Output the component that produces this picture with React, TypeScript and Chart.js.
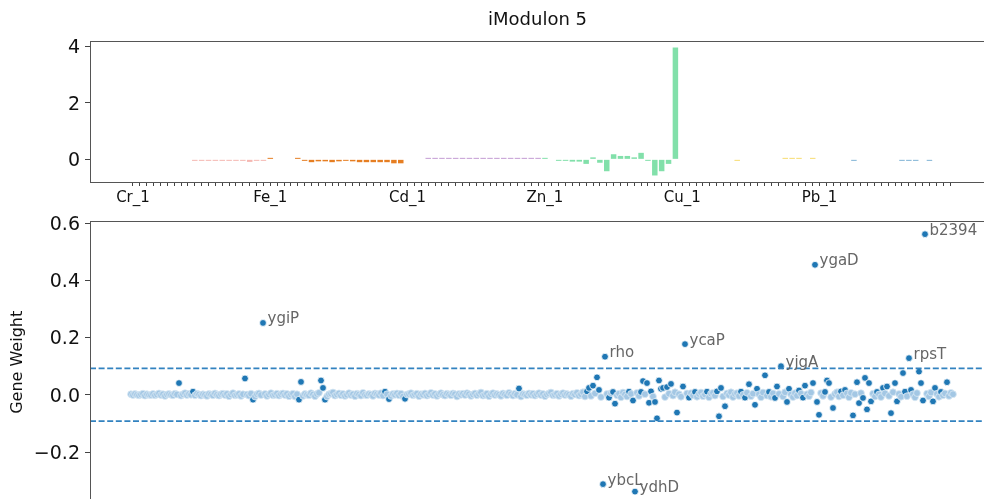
import React, { useEffect, useRef } from 'react';
import { Chart, registerables } from 'chart.js';

Chart.register(...registerables);

const FONT = "'DejaVu Sans', 'Liberation Sans', sans-serif";

// ---------- top panel: iModulon activity per condition ----------
const panelTitle = 'iModulon 5';
const conditionTickLabels = ['Cr_1', 'Fe_1', 'Cd_1', 'Zn_1', 'Cu_1', 'Pb_1'];
const conditionStep = 20;
const conditionCount = 120;
const activity: (number | null)[] = [
  null, null, null, null, null, null, null, null, null,
  -0.03, -0.03, -0.05, -0.05, -0.05, -0.05, -0.05, -0.05, -0.09, -0.05, -0.05,
  0.05,
  null, null, null,
  0.04, -0.03, -0.1, -0.07, -0.07, -0.1, -0.07, -0.03, -0.07, -0.1, -0.1, -0.1, -0.1, -0.1, -0.14, -0.14,
  null, null, null,
  0.02, 0.02, 0.02, 0.02, 0.02, 0.02, 0.02, 0.02, 0.02, 0.02, 0.02, 0.02, 0.02, 0.02, 0.02, 0.02, 0.02,
  0.03, null, -0.04, -0.04, -0.08, -0.08, -0.16, 0.07, -0.12, -0.42, 0.18, 0.12, 0.12, 0.07, 0.23, -0.04, -0.57, -0.42, -0.16, 3.95,
  null, null, null, null, null, null, null, null,
  -0.02,
  null, null, null, null, null, null,
  0.02, 0.02, 0.02, null, 0.02,
  null, null, null, null, null,
  -0.02,
  null, null, null, null, null, null,
  -0.02, -0.02, -0.02, null, -0.02,
  null, null, null,
];
const activityGroups = [
  { from: 0, to: 19, color: '#F5B7B1' },
  { from: 20, to: 39, color: '#E67E22' },
  { from: 40, to: 59, color: '#C39BD3' },
  { from: 60, to: 79, color: '#82E0AA' },
  { from: 80, to: 99, color: '#F7DC6F' },
  { from: 100, to: 119, color: '#7FB3D5' },
];
const activityTicks = [0, 2, 4];

// ---------- bottom panel: gene weights ----------
const geneWeights = [
  0.002, -0.001, 0.003, 0.000, -0.002, 0.001, 0.004, -0.003, 0.002, 0.000, -0.001, 0.003, -0.002, 0.001, 0.005, -0.001, 0.002, -0.004, 0.001, 0.003,
  0.000, -0.002, 0.004, 0.001, 0.041, -0.003, 0.002, 0.006, -0.001, 0.003, 0.000, 0.011, -0.002, 0.004, 0.001, -0.003, 0.002, 0.000, -0.004, 0.003,
  0.001, -0.002, 0.005, 0.000, -0.003, 0.002, 0.004, -0.001, 0.003, -0.005, 0.001, 0.006, -0.002, 0.000, 0.003, -0.004, 0.002, 0.057, 0.001, -0.003,
  0.004, -0.017, -0.006, 0.002, 0.005, -0.001, 0.251, 0.003, -0.004, 0.001, 0.006, -0.002, 0.000, 0.004, -0.003, 0.002, 0.005, -0.001, 0.003, -0.005,
  0.001, 0.004, -0.006, 0.002, -0.017, 0.045, -0.004, 0.003, 0.000, -0.002, 0.006, 0.001, -0.005, 0.003, 0.007, 0.050, 0.024, -0.017, -0.006, 0.002,
  0.004, 0.008, -0.003, 0.001, 0.005, -0.002, 0.003, -0.004, 0.000, 0.006, -0.001, 0.002, -0.005, 0.004, 0.001, -0.003, 0.007, 0.000, -0.002, 0.003,
  0.001, -0.004, 0.005, 0.002, -0.001, 0.006, -0.003, 0.011, 0.002, -0.015, -0.004, 0.003, 0.000, 0.005, -0.002, 0.004, -0.006, -0.014, 0.001, 0.003,
  0.006, -0.002, 0.001, 0.004, -0.005, 0.002, 0.000, 0.005, -0.003, 0.001, 0.007, -0.001, 0.003, -0.004, 0.002, 0.006, 0.000, -0.003, 0.004, 0.001,
  -0.002, 0.005, 0.002, -0.006, 0.003, 0.000, 0.004, -0.001, 0.006, 0.002, -0.004, 0.001, 0.005, -0.002, 0.003, 0.008, -0.003, 0.000, 0.004, -0.005,
  0.002, 0.006, -0.001, 0.003, 0.000, -0.004, 0.005, 0.001, -0.002, 0.007, 0.002, -0.003, 0.004, 0.000, 0.022, -0.006, 0.003, 0.001, -0.002, 0.005,
  0.000, 0.004, -0.003, 0.002, 0.006, -0.001, 0.003, -0.005, 0.001, 0.005, 0.008, -0.002, 0.000, 0.004, -0.004, 0.002, 0.006, -0.001, 0.003, 0.000,
  -0.005, 0.004, 0.001, 0.007, -0.003, 0.002, 0.009, -0.006, 0.012, 0.024, -0.004, 0.032, 0.005, 0.061, 0.017, -0.008, -0.312, 0.133, 0.003, -0.010,
  0.006, 0.010, -0.031, -0.002, 0.004, -0.009, 0.008, 0.001, -0.006, 0.011, 0.003, -0.020, -0.338, 0.007, -0.004, 0.010, 0.048, 0.002, 0.041, -0.028,
  0.012, -0.006, -0.025, -0.082, 0.050, 0.021, 0.024, -0.008, 0.027, 0.004, 0.038, -0.003, 0.009, -0.062, 0.002, -0.007, 0.029, 0.177, 0.005, -0.010,
  0.006, -0.002, 0.010, -0.007, 0.003, 0.008, -0.005, 0.001, 0.011, -0.009, 0.004, 0.007, -0.003, 0.012, -0.075, 0.024, -0.006, -0.040, 0.005, -0.001,
  0.009, -0.008, 0.003, 0.006, -0.004, 0.011, 0.000, -0.010, 0.007, 0.037, -0.005, 0.004, -0.035, 0.021, 0.002, -0.009, 0.008, 0.068, -0.003, 0.010,
  -0.007, 0.005, -0.011, 0.029, 0.003, 0.100, -0.006, 0.009, -0.025, 0.021, 0.001, -0.008, 0.006, -0.003, 0.015, 0.004, -0.010, 0.032, 0.002, -0.005,
  0.008, 0.041, 0.454, -0.025, -0.070, 0.006, -0.004, 0.010, 0.050, 0.041, -0.008, -0.046, 0.003, 0.009, -0.006, 0.012, -0.002, 0.017, 0.005, -0.009,
  0.007, -0.072, 0.002, 0.044, -0.029, 0.006, -0.011, 0.059, -0.051, 0.041, -0.023, 0.004, -0.006, 0.010, 0.001, -0.008, 0.024, 0.005, 0.029, -0.004,
  -0.064, 0.009, 0.041, -0.023, 0.003, -0.007, 0.076, 0.011, -0.005, 0.128, 0.017, 0.002, -0.009, 0.006, 0.081, 0.041, -0.020, 0.561, 0.004, -0.006,
  0.008, -0.023, 0.024, 0.003, -0.007, 0.010, -0.002, 0.005, 0.044, -0.004, 0.007, 0.002,
];
const labeledGenes = ['ygiP', 'rho', 'ycaP', 'yjgA', 'ygaD', 'b2394', 'rpsT', 'ybcL', 'ydhD'];
const labeledGeneIndex = [66, 237, 277, 325, 342, 397, 389, 236, 252];
const weightThreshold = 0.092;
const weightTicks = [-0.2, 0, 0.2, 0.4, 0.6];
const yAxisTitle = 'Gene Weight';

const BLUE = '#1f77b4';
const BAND_FILL = '#a3c7e4';
const BAND_EDGE = '#d9e8f4';
const BAND_LIMIT = 0.0095;

const framePlugin = {
  id: 'frame',
  afterDraw(chart: any) {
    const { ctx, chartArea: a } = chart;
    ctx.save();
    ctx.strokeStyle = '#555';
    ctx.lineWidth = 1;
    ctx.strokeRect(Math.round(a.left) + 0.5, Math.round(a.top) + 0.5, Math.round(a.right - a.left), Math.round(a.bottom - a.top));
    ctx.restore();
  },
};

const titlePlugin = {
  id: 'panelTitle',
  afterDraw(chart: any) {
    const { ctx, chartArea: a } = chart;
    ctx.save();
    ctx.font = `18px ${FONT}`;
    ctx.fillStyle = '#111';
    ctx.textAlign = 'center';
    ctx.textBaseline = 'alphabetic';
    ctx.fillText(panelTitle, (a.left + a.right) / 2, a.top - 16);
    ctx.restore();
  },
};

const geneLabelPlugin = {
  id: 'geneLabels',
  afterDatasetsDraw(chart: any) {
    const { ctx } = chart;
    const xs = chart.scales.x;
    const ys = chart.scales.y;
    ctx.save();
    ctx.font = `15px ${FONT}`;
    ctx.fillStyle = '#666';
    ctx.textAlign = 'left';
    ctx.textBaseline = 'alphabetic';
    labeledGenes.forEach((name, k) => {
      const i = labeledGeneIndex[k];
      const px = xs.getPixelForValue(i);
      const py = ys.getPixelForValue(geneWeights[i]);
      ctx.fillText(name, px + 4.5, py + 0.5);
    });
    ctx.restore();
  },
};

function barColor(i: number) {
  const g = activityGroups.find((r) => i >= r.from && i <= r.to);
  return g ? g.color : '#999';
}

const inBand = (ctx: any) => Math.abs(ctx.raw ? ctx.raw.y : 0) < BAND_LIMIT;

export default function App() {
  const topRef = useRef<HTMLCanvasElement>(null);
  const botRef = useRef<HTMLCanvasElement>(null);

  useEffect(() => {
    const conditionIdx = Array.from({ length: conditionCount }, (_, i) => i);
    const top = new Chart(topRef.current as HTMLCanvasElement, {
      type: 'bar',
      data: {
        datasets: [
          {
            data: activity.map((v, i) => ({ x: i, y: v })) as any,
            backgroundColor: activity.map((_, i) => barColor(i)),
            barPercentage: 0.8,
            categoryPercentage: 1,
            minBarLength: 1.5,
          },
        ],
      },
      options: {
        responsive: false,
        animation: false,
        layout: { padding: { top: 41, right: 5, left: 0, bottom: 0 } },
        plugins: { legend: { display: false }, tooltip: { enabled: false }, title: { display: false } },
        scales: {
          x: {
            type: 'linear',
            min: -6.26,
            max: 124.09,
            offset: false,
            border: { display: false },
            grid: { display: true, drawOnChartArea: false, drawTicks: true, tickLength: 4, color: '#444', offset: false },
            afterBuildTicks: (s: any) => {
              s.ticks = conditionIdx.map((v) => ({ value: v }));
            },
            afterFit: (s: any) => {
              s.height = 28;
            },
            ticks: {
              autoSkip: false,
              maxRotation: 0,
              minRotation: 0,
              padding: 3,
              color: '#111',
              font: { family: FONT, size: 15 },
              callback: (v: any) => (Number(v) % conditionStep === 0 ? conditionTickLabels[Number(v) / conditionStep] : ''),
            },
          },
          y: {
            min: -0.8,
            max: 4.18,
            border: { display: false },
            grid: { display: true, drawOnChartArea: false, drawTicks: true, tickLength: 5, color: '#444' },
            afterBuildTicks: (s: any) => {
              s.ticks = activityTicks.map((v) => ({ value: v }));
            },
            afterFit: (s: any) => {
              s.width = 90;
            },
            ticks: {
              padding: 5,
              labelOffset: 2,
              color: '#111',
              font: { family: FONT, size: 19 },
              callback: (v: any) => String(v),
            },
          },
        },
      },
      plugins: [framePlugin, titlePlugin],
    });

    const xMin = -20.5;
    const xMax = 427;
    const bot = new Chart(botRef.current as HTMLCanvasElement, {
      type: 'scatter',
      data: {
        datasets: [
          {
            type: 'line',
            data: [{ x: xMin, y: weightThreshold }, { x: xMax, y: weightThreshold }],
            borderColor: '#3282c0',
            borderWidth: 1.7,
            borderDash: [6, 2.6],
            pointRadius: 0,
            fill: false,
          } as any,
          {
            type: 'line',
            data: [{ x: xMin, y: -weightThreshold }, { x: xMax, y: -weightThreshold }],
            borderColor: '#3282c0',
            borderWidth: 1.7,
            borderDash: [6, 2.6],
            pointRadius: 0,
            fill: false,
          } as any,
          {
            data: geneWeights.map((w, i) => ({ x: i, y: w })),
            pointRadius: 3.4,
            pointBackgroundColor: (c: any) => (inBand(c) ? BAND_FILL : BLUE),
            pointBorderColor: (c: any) => (inBand(c) ? BAND_EDGE : '#ffffff'),
            pointBorderWidth: 0.8,
          } as any,
        ],
      },
      options: {
        responsive: false,
        animation: false,
        layout: { padding: { top: 21, right: 5, left: 0, bottom: 14.5 } },
        plugins: { legend: { display: false }, tooltip: { enabled: false } },
        scales: {
          x: { type: 'linear', min: xMin, max: xMax, display: false },
          y: {
            min: -0.38,
            max: 0.607,
            border: { display: false },
            grid: { display: true, drawOnChartArea: false, drawTicks: true, tickLength: 5, color: '#444' },
            afterBuildTicks: (s: any) => {
              s.ticks = weightTicks.map((v) => ({ value: v }));
            },
            afterFit: (s: any) => {
              s.width = 90;
            },
            title: {
              display: true,
              text: yAxisTitle,
              color: '#111',
              font: { family: FONT, size: 16 },
              padding: { top: 8, bottom: 0 },
            },
            ticks: {
              padding: 5,
              labelOffset: 2,
              color: '#111',
              font: { family: FONT, size: 19 },
              callback: (v: any) => (Number(v) < 0 ? '\u2212' : '') + Math.abs(Number(v)).toFixed(1),
            },
          },
        },
      },
      plugins: [framePlugin, geneLabelPlugin],
    });

    return () => {
      top.destroy();
      bot.destroy();
    };
  }, []);

  return (
    <div style={{ position: 'fixed', left: 0, top: 0, width: 984, height: 499, overflow: 'hidden', background: '#fff' }}>
      <canvas ref={topRef} width={990} height={210} style={{ position: 'absolute', left: 0, top: 0, width: 990, height: 210 }} />
      <canvas ref={botRef} width={990} height={320} style={{ position: 'absolute', left: 0, top: 200, width: 990, height: 320 }} />
    </div>
  );
}
